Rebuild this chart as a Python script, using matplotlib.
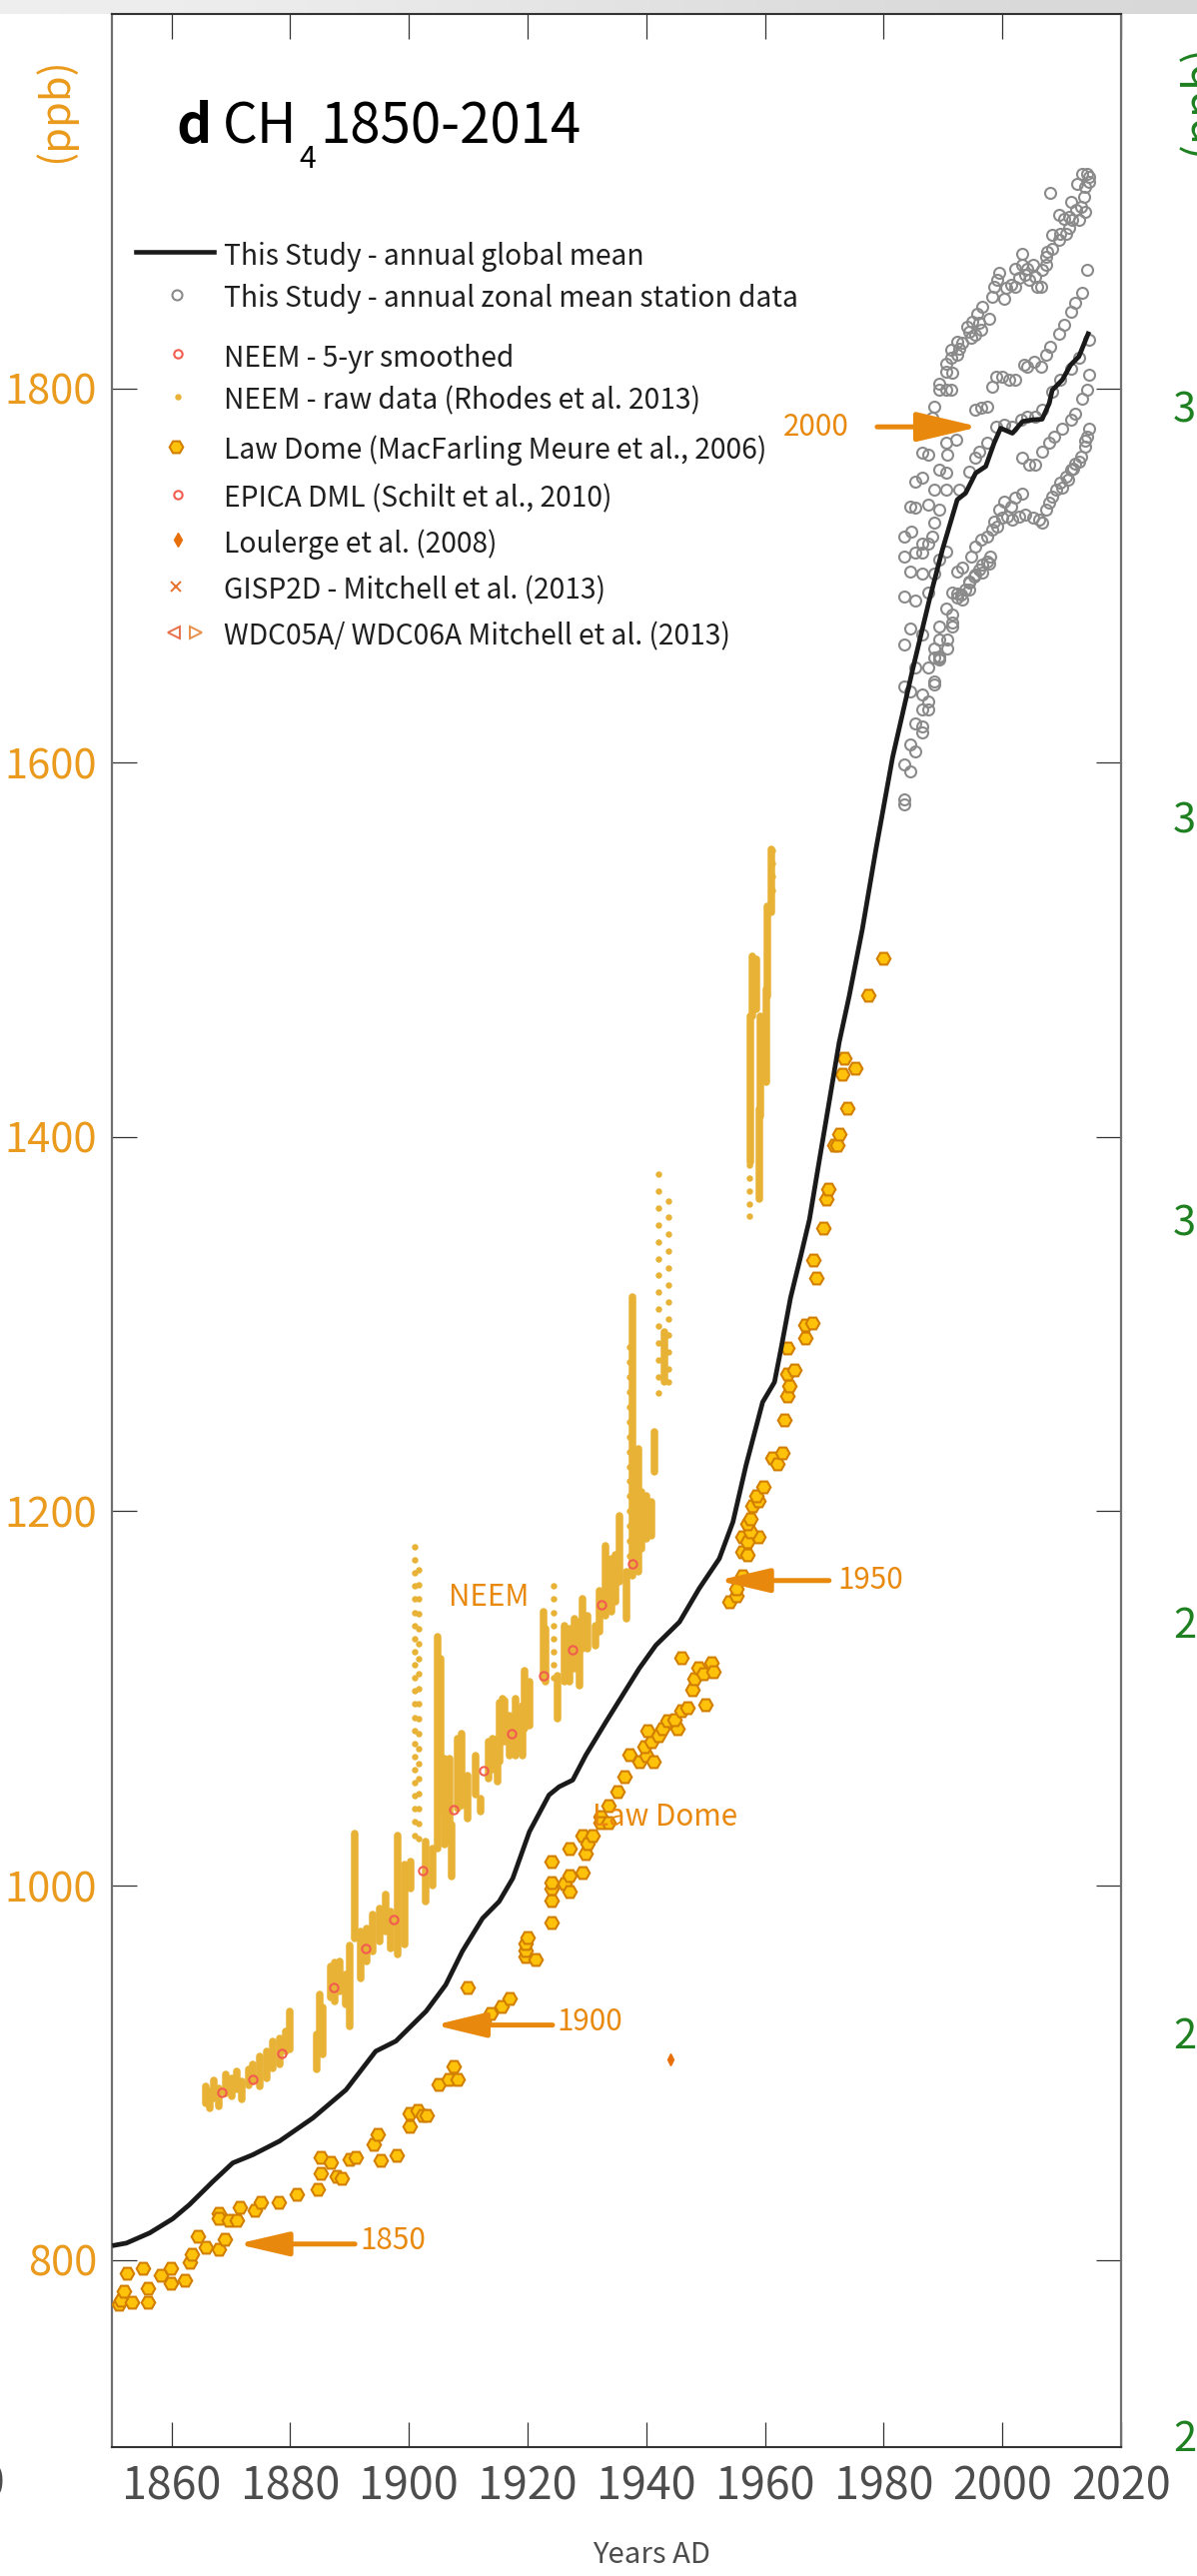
import matplotlib
matplotlib.use("Agg")
import matplotlib.pyplot as plt
from matplotlib import font_manager
from matplotlib.lines import Line2D
from matplotlib.colors import LinearSegmentedColormap
import numpy as np

W, H = 1198, 2578

# ---------------- data ----------------
x_ticks = [1860, 1880, 1900, 1920, 1940, 1960, 1980, 2000, 2020]
x_tick_labels = ['1860', '1880', '1900', '1920', '1940', '1960', '1980', '2000', '2020']
y_ticks = [800, 1000, 1200, 1400, 1600, 1800]
y_tick_labels = ['800', '1000', '1200', '1400', '1600', '1800']
neighbour_labels = ['320', '310', '300', '290', '280', '270']

global_year = [1850, 1852.4, 1856.3, 1860.2, 1863.0, 1867.0, 1870.3, 1873.7, 1878.2, 1883.8,
               1889.4, 1894.4, 1897.8, 1902.9, 1906.2, 1909.0, 1912.4, 1915.2, 1917.5, 1920.3,
               1923.6, 1925.3, 1927.6, 1929.8, 1933.2, 1938.8, 1941.6, 1945.6, 1948.9, 1952.3,
               1954.6, 1956.8, 1959.6, 1961.6, 1962.7, 1964.3, 1966.0, 1967.5, 1969.1, 1970.8,
               1972.5, 1974.2, 1976.4, 1978.7, 1981.5, 1984.9, 1987.7, 1989.9, 1992.4, 1993.8,
               1995.5, 1997.2, 1998.6, 1999.7, 2001.7, 2003.4, 2005.1, 2006.7, 2007.9, 2008.4,
               2010.1, 2011.5, 2012.9, 2014.6]
global_ppb = [807.6, 809.0, 814.4, 822.0, 829.5, 842.0, 851.8, 856.2, 863.5, 875.8,
              890.9, 911.5, 916.9, 932.9, 947.0, 964.9, 982.5, 991.5, 1003.9, 1028.8,
              1048.4, 1052.8, 1056.4, 1069.7, 1087.5, 1116.0, 1128.4, 1140.9, 1158.7, 1174.7,
              1194.3, 1224.5, 1258.3, 1269.0, 1286.8, 1314.0, 1336.0, 1356.0, 1386.4, 1418.4,
              1450.5, 1475.4, 1510.9, 1553.7, 1602.8, 1650.0, 1687.0, 1713.8, 1740.5, 1744.0,
              1754.7, 1758.3, 1770.7, 1778.7, 1776.0, 1782.3, 1783.2, 1783.5, 1792.0, 1799.0,
              1804.5, 1812.5, 1817.0, 1830.3]

lawdome_year = [1851.2, 1851.5, 1852.0, 1852.4, 1853.4, 1855.1, 1856.0, 1856.0, 1858.2, 1859.9,
                1859.9, 1862.2, 1863.1, 1863.5, 1864.4, 1865.8, 1867.9, 1868.9, 1867.9, 1867.9,
                1869.7, 1871.0, 1871.5, 1874.1, 1875.1, 1878.1, 1881.1, 1884.7, 1885.1, 1885.1,
                1886.9, 1887.8, 1888.7, 1890.0, 1891.0, 1894.0, 1894.7, 1895.3, 1897.9, 1900.1,
                1900.1, 1901.5, 1902.3, 1903.0, 1905.0, 1906.7, 1907.6, 1908.2, 1909.9, 1912.5,
                1913.8, 1915.6, 1916.9, 1919.6, 1921.4, 1919.6, 1919.6, 1920.0, 1924.0, 1924.0,
                1924.0, 1924.0, 1924.0, 1926.2, 1927.0, 1927.1, 1927.1, 1929.2, 1929.2, 1929.7,
                1930.1, 1931.0, 1932.3, 1932.3, 1933.7, 1933.7, 1935.2, 1936.3, 1937.2, 1938.8,
                1940.0, 1941.2, 1939.7, 1940.8, 1940.2, 1942.1, 1942.8, 1943.6, 1945.2, 1944.7,
                1946.0, 1946.9, 1949.9, 1947.8, 1948.1, 1948.7, 1949.6, 1950.9, 1951.3, 1946.0,
                1954.0, 1955.1, 1955.1, 1956.2, 1956.2, 1957.1, 1956.2, 1957.1, 1958.8, 1957.5,
                1957.1, 1957.5, 1957.9, 1958.8, 1958.5, 1959.8, 1961.2, 1962.0, 1962.9, 1963.3,
                1963.7, 1964.1, 1963.8, 1964.9, 1963.8, 1966.8, 1966.8, 1968.0, 1968.1, 1968.7,
                1969.8, 1970.3, 1970.7, 1971.7, 1972.1, 1972.5, 1973.8, 1973.0, 1973.4, 1975.2,
                1977.4, 1980.0]
lawdome_ppb = [776.1, 778.3, 783.3, 793.1, 777.6, 795.7, 784.7, 777.6, 791.6, 795.7,
               787.4, 789.0, 798.8, 802.8, 812.6, 806.9, 805.5, 811.2, 825.1, 822.0,
               821.0, 821.0, 828.1, 826.3, 830.6, 830.6, 834.9, 837.9, 854.8, 846.4,
               852.1, 844.5, 843.4, 853.5, 854.8, 861.5, 867.3, 853.0, 855.9, 871.4,
               878.3, 880.1, 877.0, 877.0, 893.6, 896.6, 903.4, 896.6, 945.5, 927.7,
               931.8, 935.7, 939.8, 962.4, 960.8, 965.6, 969.2, 972.2, 980.4, 991.8,
               998.6, 1001.8, 1012.8, 1001.2, 997.1, 1005.6, 1019.9, 1007.1, 1027.0, 1017.2,
               1022.2, 1027.0, 1036.8, 1033.8, 1033.8, 1043.0, 1050.0, 1058.0, 1070.1, 1066.2,
               1069.7, 1066.2, 1074.2, 1076.9, 1082.7, 1080.0, 1084.0, 1088.0, 1084.0, 1088.8,
               1093.7, 1095.0, 1096.8, 1104.8, 1110.6, 1116.4, 1113.3, 1119.2, 1114.5, 1121.7,
               1151.6, 1155.1, 1158.7, 1165.8, 1178.3, 1176.5, 1186.3, 1183.6, 1186.3, 1189.0,
               1193.4, 1196.0, 1203.1, 1205.8, 1208.5, 1213.0, 1228.4, 1225.4, 1231.3, 1249.0,
               1261.9, 1267.2, 1273.4, 1275.7, 1287.1, 1292.5, 1299.6, 1300.7, 1334.5, 1324.5,
               1351.2, 1366.6, 1372.2, 1395.9, 1395.9, 1401.5, 1415.6, 1433.6, 1442.1, 1436.6,
               1475.7, 1495.3]

neem5_year = [1868.4, 1873.7, 1878.6, 1887.3, 1892.7, 1897.5, 1902.3, 1907.6, 1912.5, 1917.3,
              1922.7, 1927.5, 1932.4, 1937.6]
neem5_ppb = [889.5, 896.6, 910.5, 945.5, 966.5, 982.0, 1008.3, 1040.7, 1061.7, 1081.3,
             1111.9, 1125.8, 1149.8, 1172.0]

# NEEM raw data: dense columns of samples (year, lowest, highest sample)
neem_col_year = [1865.7, 1866.5, 1867.1, 1868.0, 1869.2, 1870.1, 1871.0, 1871.9, 1873.0, 1873.7,
                 1874.8, 1876.0, 1877.1, 1878.2, 1879.3, 1880.0, 1884.4, 1884.9, 1885.4, 1886.8,
                 1887.5, 1888.3, 1889.4, 1890.1, 1890.9, 1891.9, 1892.8, 1893.9, 1895.0, 1896.1,
                 1897.0, 1898.1, 1899.2, 1900.3, 1902.9, 1904.0, 1904.8, 1905.4, 1906.0, 1906.8,
                 1907.2, 1908.2, 1908.9, 1909.9, 1911.3, 1912.0, 1913.5, 1914.1, 1914.9, 1915.3,
                 1915.8, 1916.1, 1916.9, 1918.0, 1918.4, 1919.1, 1919.5, 1920.3, 1922.6, 1923.1,
                 1925.1, 1926.2, 1927.1, 1927.9, 1928.7, 1929.3, 1930.1, 1931.5, 1932.1, 1933.2,
                 1934.1, 1934.8, 1935.5, 1936.6, 1937.7, 1938.6, 1939.1, 1940.0, 1940.8, 1941.4,
                 1943.0, 1957.6, 1957.9, 1958.5, 1959.0, 1959.3, 1960.2, 1960.4, 1961.0]
neem_col_low = [883.8, 881.0, 886.5, 882.0, 889.0, 887.4, 891.0, 885.6, 893.0, 895.4,
                892.7, 897.1, 902.5, 904.3, 911.4, 912.3, 901.6, 922.0, 910.0, 940.0,
                938.0, 943.4, 936.3, 924.7, 972.0, 950.5, 959.4, 964.8, 970.1, 975.4,
                966.5, 963.0, 968.3, 998.6, 991.4, 1000.3, 1020.0, 1040.0, 1021.7, 1023.5,
                1004.8, 1041.3, 1043.0, 1036.0, 1048.4, 1039.5, 1057.3, 1062.0, 1055.5, 1066.0,
                1076.8, 1076.8, 1069.7, 1069.7, 1073.3, 1069.7, 1084.0, 1085.7, 1110.6, 1108.8,
                1089.3, 1108.8, 1108.8, 1116.0, 1107.0, 1126.6, 1126.6, 1128.4, 1135.5, 1144.4,
                1146.2, 1151.6, 1162.2, 1142.6, 1165.8, 1167.6, 1180.0, 1185.4, 1187.1, 1220.9,
                1269.0, 1386.4, 1464.7, 1468.3, 1366.8, 1411.3, 1429.1, 1475.4, 1519.9]
neem_col_high = [892.7, 890.0, 896.0, 891.8, 899.0, 897.0, 900.7, 895.3, 902.0, 904.3,
                 908.7, 911.4, 916.7, 918.5, 922.0, 932.7, 920.3, 941.6, 935.0, 957.0,
                 959.0, 959.4, 952.3, 968.0, 1028.0, 975.4, 977.2, 984.3, 987.9, 995.0,
                 986.1, 1027.0, 1011.0, 1012.8, 1023.5, 1019.9, 1133.0, 1121.0, 1068.0, 1068.0,
                 1032.4, 1078.6, 1081.3, 1059.0, 1069.7, 1046.6, 1076.8, 1078.6, 1078.6, 1098.0,
                 1100.0, 1099.0, 1091.0, 1100.0, 1094.6, 1096.4, 1115.0, 1108.8, 1146.2, 1137.3,
                 1112.4, 1139.1, 1137.3, 1142.6, 1140.9, 1153.3, 1144.4, 1139.1, 1157.8, 1181.8,
                 1174.7, 1176.5, 1197.8, 1167.6, 1314.4, 1233.4, 1210.3, 1208.5, 1204.9, 1242.3,
                 1296.0, 1464.7, 1496.7, 1495.0, 1414.9, 1464.7, 1478.9, 1523.4, 1553.7]

# NEEM raw data: sparse, individually visible samples
neem_sparse_year = [1901.0, 1901.7, 1924.4, 1937.2, 1942.1, 1943.8, 1957.4, 1961.3]
neem_sparse_ppb = [
    [1181, 1174, 1167, 1160, 1153, 1146, 1139, 1132, 1125, 1118, 1111, 1104, 1097, 1090,
     1083, 1076, 1069, 1062, 1055, 1048, 1041, 1034, 1027],
    [1169, 1161, 1153, 1145, 1137, 1129, 1121, 1113, 1105, 1097, 1089, 1081, 1073, 1065,
     1057, 1049, 1041, 1033, 1025],
    [1160, 1153, 1146, 1139, 1132, 1125, 1118, 1111],
    [1288, 1280, 1272, 1264, 1256, 1248, 1240, 1232, 1224, 1216, 1208, 1200, 1192, 1184,
     1176, 1168],
    [1380, 1371, 1362, 1353, 1344, 1335, 1326, 1317, 1308, 1299, 1290, 1281, 1272, 1263],
    [1366, 1357, 1348, 1339, 1330, 1321, 1312, 1303, 1294, 1285, 1276, 1269],
    [1385, 1378, 1371, 1364, 1358],
    [1553, 1546, 1539, 1532],
]

loulergue_year = [1944.0]
loulergue_ppb = [907.0]

station_year = [
    1983.45, 1983.45, 1983.45, 1984.4, 1984.4, 1985.3, 1983.45, 1984.4, 1985.3, 1986.5,
    1986.5, 1986.5, 1986.5, 1987.5, 1987.5, 1988.5, 1988.5, 1985.3, 1987.5, 1989.3,
    1989.3, 1988.5, 1990.7, 1990.7, 1989.3, 1991.5, 1991.5, 1984.4, 1983.45, 1986.5,
    1990.5, 1991.5, 1991.5, 1992.4, 1993.3, 1987.5, 1983.45, 1985.3, 1984.4, 1986.5,
    1988.5, 1992.4, 1993.3, 1994.4, 1994.4, 1995.5, 1996.6, 1997.8,
    1984.6, 1983.45, 1983.45, 1985.3, 1986.5, 1984.4, 1985.3, 1987.5, 1989.3, 1988.5,
    1987.5, 1985.3, 1986.5, 1988.5, 1986.5, 1987.5, 1989.3, 1990.5, 1990.7, 1990.5,
    1992.2, 1988.2, 1988.5, 1989.3, 1989.3, 1990.5, 1991.3, 1990.5, 1991.6, 1990.5,
    1991.3, 1992.4, 1992.4, 1992.7, 1993.3, 1991.3, 1994.4, 1994.7, 1995.5, 1996.4,
    1994.1, 1994.9, 1995.8, 1996.6, 1997.8, 1996.1, 1998.3, 1998.6, 1999.2, 1999.4,
    2000.3, 2000.6, 2001.4, 2002.2, 2002.2, 2003.4, 2003.4, 2004.2, 2002.8, 2003.9,
    2004.5, 2005.1, 2005.6, 2005.9, 2006.7, 2007.3, 2006.5, 2007.3, 2007.6, 2008.4,
    2008.4, 2009.5, 2009.8, 2010.7, 2011.2, 2009.5, 2010.4, 2011.2, 2011.8, 2012.9,
    2011.5, 2012.4, 2013.2, 2013.8, 2014.0, 2012.6, 2013.5, 2014.0, 2014.3, 2014.6,
    2014.6, 2008.1,
    1995.5, 1996.4, 1997.5, 1998.3, 1998.9, 2000.0, 2001.1, 2002.2, 2003.7, 2004.2,
    2005.3, 2006.5, 2007.3, 2008.1, 2009.5, 2010.4, 2011.5, 2012.3, 2013.5, 2014.3,
    2014.6, 2014.6,
    1990.5, 1992.7, 1994.4, 1995.5, 1996.1, 1997.5, 1998.9, 2000.3, 2001.7, 2003.1,
    2004.2, 2005.6, 2006.7, 2008.4, 2009.8, 2011.5, 2012.9,
    2003.4, 2004.5, 2005.6, 2006.7, 2007.9, 2008.7, 2010.1, 2011.5, 2012.3, 2013.5,
    2014.3, 1986.5, 1988.2, 1989.3, 1990.5,
    1989.3, 1988.5, 1989.3, 1992.4, 1993.0, 1993.8, 1994.4, 1995.2, 1996.1, 1996.6,
    1997.5, 1998.0, 1994.7, 1995.5, 1996.4, 1997.5, 1998.3, 1999.2, 1998.6, 2000.0,
    2000.8, 2001.7, 2002.8, 2003.9, 2005.1, 2006.2, 2006.7, 1999.4, 2000.3, 2001.4,
    2002.2, 2003.4, 2007.3, 2007.9, 2008.4, 2009.0, 2009.8, 2010.7, 2011.5, 2012.3,
    2013.2, 2014.0, 2014.3, 2014.6, 2010.1, 2011.0, 2012.0, 2013.0, 2014.0]
station_ppb = [
    1580.3, 1577.6, 1599.0, 1595.4, 1609.6, 1606.1, 1640.8, 1638.1, 1621.2, 1619.4,
    1615.9, 1636.3, 1628.3, 1628.3, 1632.8, 1641.7, 1643.5, 1650.6, 1650.6, 1655.0,
    1656.5, 1661.2, 1661.2, 1665.7, 1672.8, 1672.8, 1674.6, 1671.4, 1663.0, 1668.4,
    1682.6, 1679.0, 1691.0, 1688.0, 1687.0, 1691.0, 1688.5, 1686.7, 1702.2, 1701.0,
    1701.0, 1702.2, 1704.0, 1692.4, 1696.8, 1700.4, 1701.3, 1706.6,
    1723.6, 1720.9, 1710.2, 1712.0, 1712.0, 1736.9, 1736.0, 1737.8, 1735.1, 1728.0,
    1717.3, 1750.3, 1752.1, 1745.8, 1765.4, 1764.5, 1756.5, 1754.7, 1764.5, 1770.7,
    1772.5, 1784.1, 1790.3, 1802.7, 1799.2, 1799.2, 1799.2, 1809.0, 1808.1, 1813.4,
    1816.1, 1817.9, 1825.0, 1821.4, 1824.1, 1820.5, 1830.3, 1826.8, 1828.5, 1831.2,
    1833.0, 1835.7, 1840.1, 1843.7, 1837.4, 1834.8, 1849.0, 1854.3, 1857.9, 1861.5,
    1848.1, 1853.5, 1855.2, 1854.3, 1864.1, 1865.9, 1872.1, 1864.1, 1858.8, 1860.6,
    1857.9, 1865.9, 1859.7, 1854.3, 1863.2, 1865.9, 1854.3, 1870.4, 1873.0, 1874.8,
    1881.9, 1879.3, 1882.8, 1882.8, 1885.5, 1892.6, 1890.8, 1891.7, 1889.9, 1889.9,
    1899.7, 1895.3, 1897.0, 1902.4, 1894.4, 1909.5, 1914.8, 1907.7, 1914.8, 1913.0,
    1910.4, 1904.2,
    1788.5, 1789.4, 1790.3, 1801.0, 1806.3, 1806.3, 1804.5, 1804.5, 1812.5, 1811.6,
    1814.3, 1811.6, 1817.9, 1822.3, 1829.4, 1833.9, 1841.0, 1845.5, 1850.8, 1863.2,
    1825.9, 1807.2,
    1745.8, 1745.8, 1755.6, 1762.7, 1766.3, 1770.7, 1779.6, 1780.5, 1779.6, 1783.2,
    1785.0, 1785.0, 1788.5, 1798.3, 1804.5, 1810.7, 1816.1,
    1762.7, 1759.1, 1759.1, 1766.3, 1770.7, 1774.3, 1778.7, 1783.2, 1786.7, 1794.7,
    1799.2, 1717.3, 1720.9, 1708.4, 1712.9,
    1665.7, 1656.0, 1656.0, 1690.6, 1689.7, 1692.4, 1696.0, 1699.5, 1703.1, 1705.8,
    1707.5, 1710.2, 1710.2, 1715.5, 1719.1, 1720.9, 1724.4, 1726.2, 1728.9, 1730.7,
    1731.6, 1729.8, 1731.6, 1732.5, 1730.7, 1729.8, 1728.0, 1735.1, 1739.6, 1736.9,
    1741.4, 1744.0, 1735.1, 1738.7, 1742.2, 1745.8, 1749.4, 1752.9, 1756.5, 1760.0,
    1763.6, 1768.9, 1774.3, 1778.7, 1747.0, 1751.0, 1757.0, 1761.0, 1772.0]

legend_labels = ['This Study - annual global mean',
                 'This Study - annual zonal mean station data',
                 'NEEM - 5-yr smoothed',
                 'NEEM - raw data (Rhodes et al. 2013)',
                 'Law Dome (MacFarling Meure et al., 2006)',
                 'EPICA DML (Schilt et al., 2010)',
                 'Loulerge et al. (2008)',
                 'GISP2D - Mitchell et al. (2013)',
                 'WDC05A/ WDC06A Mitchell et al. (2013)']

# ---------------- style ----------------
names = {f.name for f in font_manager.fontManager.ttflist}
fam = None
for cand in ['Liberation Sans Narrow', 'Noto Sans CJK JP', 'Noto Sans CJK SC', 'Roboto']:
    if cand in names:
        fam = cand
        break
plt.rcParams['font.family'] = [fam, 'DejaVu Sans'] if fam else ['DejaVu Sans']

ORANGE_TXT = '#EA9A1C'
ARROW_C = '#E8890E'
GREEN = '#1E8020'
GRAY_TXT = '#4D4D4D'
NEEM_C = '#E8B236'
LD_FACE = '#FFC20A'
LD_EDGE = '#D27E00'
RED_C = '#F25C4F'
STATION_C = '#8A8A8A'

fig = plt.figure(figsize=(W / 100, H / 100), dpi=100)
renderer = fig.canvas.get_renderer()


def fx(x):
    return x / W


def fy(y):
    return 1 - y / H


def text_width(s, size, **kw):
    t = fig.text(0, 0, s, fontsize=size, **kw)
    w = t.get_window_extent(renderer=renderer).width
    t.remove()
    return w


def size_for(s, target_px, cap=None, **kw):
    sz = 10.0 * target_px / text_width(s, 10.0, **kw)
    if cap is not None:
        sz = min(sz, cap)
    return sz


FS_YTICK = size_for('1800', 93, cap=37)
FS_XTICK = size_for('1860', 100, cap=37)
FS_LEG = size_for(legend_labels[1], 575, cap=28)
FS_TITLE = size_for('1850-2014', 262, cap=44)
FS_ANN = size_for('1850', 66, cap=28)
FS_XLAB = size_for('Years AD', 118, cap=26)

# top grey band (part of the surrounding page)
band = fig.add_axes([0, fy(14), 1, 14 / H])
band.imshow(np.array([[0.0, 1.0]]), aspect='auto',
            cmap=LinearSegmentedColormap.from_list('band', ['#efefef', '#d8d8d8']),
            interpolation='bicubic')
band.axis('off')

ax = fig.add_axes([fx(112.3), fy(2449), (1122 - 112.3) / W, (2449 - 14) / H])
ax.set_xlim(1850, 2020)
ax.set_ylim(700, 2000)

# NEEM raw
ax.vlines(neem_col_year, neem_col_low, neem_col_high, colors=NEEM_C, linewidth=5.4,
          capstyle='round', zorder=2)
for yr, vals in zip(neem_sparse_year, neem_sparse_ppb):
    ax.plot([yr] * len(vals), vals, 'o', color=NEEM_C, ms=4.6, mec='none', zorder=2)

# NEEM 5-yr smoothed
ax.plot(neem5_year, neem5_ppb, 'o', ms=6.0, mfc='none', mec=RED_C, mew=1.5, zorder=4)

# Law Dome
ax.plot(lawdome_year, lawdome_ppb, 'H', ms=9.8, mfc=LD_FACE, mec=LD_EDGE, mew=1.5, zorder=3)

# Loulergue
ax.plot(loulergue_year, loulergue_ppb, 'd', ms=5.8, color='#E8700A', zorder=3)

# station data
ax.plot(station_year, station_ppb, 'o', ms=7.9, mfc='none', mec=STATION_C, mew=1.5, zorder=3)

# global mean
ax.plot(global_year, global_ppb, '-', color='#1a1a1a', lw=3.4, zorder=5,
        solid_joinstyle='round', solid_capstyle='butt')

# axes styling
ax.set_xticks(x_ticks)
ax.set_xticklabels(x_tick_labels)
ax.set_yticks(y_ticks)
ax.set_yticklabels(y_tick_labels)
ax.tick_params(direction='in', length=18, width=0.9, color='#333333', top=True, right=True)
ax.tick_params(axis='x', labelcolor=GRAY_TXT, pad=12, labelsize=FS_XTICK)
ax.tick_params(axis='y', labelcolor=ORANGE_TXT, pad=11, labelsize=FS_YTICK)
for side in ['left', 'right']:
    ax.spines[side].set_color('#707070')
    ax.spines[side].set_linewidth(1.6)
for side in ['top', 'bottom']:
    ax.spines[side].set_color('#333333')
    ax.spines[side].set_linewidth(1.5)

# arrows and labels
arrow_kw = dict(color=ARROW_C, lw=3.6, shrinkA=0, shrinkB=0, mutation_scale=10)
ax.annotate('', xy=(1996.1, 1779.4), xytext=(1978.9, 1779.4),
            arrowprops=dict(arrowstyle='-|>,head_length=3.8,head_width=0.9', **arrow_kw))
ax.annotate('', xy=(1952.0, 1163.0), xytext=(1970.8, 1163.0),
            arrowprops=dict(arrowstyle='-|>,head_length=3.1,head_width=0.72', **arrow_kw))
ax.annotate('', xy=(1904.3, 925.5), xytext=(1924.2, 925.5),
            arrowprops=dict(arrowstyle='-|>,head_length=3.1,head_width=0.75', **arrow_kw))
ax.annotate('', xy=(1871.0, 808.5), xytext=(1890.9, 808.5),
            arrowprops=dict(arrowstyle='-|>,head_length=3.1,head_width=0.72', **arrow_kw))
ax.text(1974.2, 1779.4, '2000', color=ARROW_C, fontsize=FS_ANN, ha='right', va='center')
ax.text(1972.2, 1163.0, '1950', color=ARROW_C, fontsize=FS_ANN, ha='left', va='center')
ax.text(1925.0, 927.0, '1900', color=ARROW_C, fontsize=FS_ANN, ha='left', va='center')
ax.text(1891.7, 810.0, '1850', color=ARROW_C, fontsize=FS_ANN, ha='left', va='center')
ax.text(1906.7, 1154.0, 'NEEM', color=ARROW_C, fontsize=FS_ANN, ha='left', va='center')
ax.text(1930.9, 1036.5, 'Law Dome', color=ARROW_C, fontsize=FS_ANN, ha='left', va='center')

# title, placed piece by piece
x_cur = 176.0
t = fig.text(fx(x_cur), fy(143), 'd', fontsize=FS_TITLE, fontweight='bold',
             va='baseline', ha='left')
x_cur += t.get_window_extent(renderer=renderer).width + 12
t = fig.text(fx(x_cur), fy(143), 'CH', fontsize=FS_TITLE, va='baseline', ha='left')
x_cur += t.get_window_extent(renderer=renderer).width + 1
t = fig.text(fx(x_cur), fy(168), '4', fontsize=FS_TITLE * 0.55, va='baseline', ha='left')
x_cur += t.get_window_extent(renderer=renderer).width + 5
fig.text(fx(x_cur), fy(143), '1850-2014', fontsize=FS_TITLE, va='baseline', ha='left')

# legend (drawn by hand to match the layout)
leg_base = [265, 307, 366.5, 409, 459, 507, 552.5, 599, 645]
for lab, b in zip(legend_labels, leg_base):
    fig.text(fx(224), fy(b), lab, fontsize=FS_LEG, color='#1f1f1f', va='baseline', ha='left')
mk_y = [b - 12.5 for b in leg_base]
fig.add_artist(Line2D([fx(136), fx(214)], [fy(252)] * 2, transform=fig.transFigure,
                      color='#1a1a1a', lw=3.3))
fig.add_artist(Line2D([fx(177)], [fy(mk_y[1])], transform=fig.transFigure, marker='o',
                      ms=7.2, mfc='none', mec=STATION_C, mew=1.5))
fig.add_artist(Line2D([fx(178)], [fy(mk_y[2])], transform=fig.transFigure, marker='o',
                      ms=6.0, mfc='none', mec=RED_C, mew=1.5))
fig.add_artist(Line2D([fx(178)], [fy(mk_y[3])], transform=fig.transFigure, marker='o',
                      ms=4.6, mfc=NEEM_C, mec='none'))
fig.add_artist(Line2D([fx(176)], [fy(mk_y[4])], transform=fig.transFigure, marker='H',
                      ms=9.8, mfc=LD_FACE, mec=LD_EDGE, mew=1.5))
fig.add_artist(Line2D([fx(178)], [fy(mk_y[5])], transform=fig.transFigure, marker='o',
                      ms=6.0, mfc='none', mec=RED_C, mew=1.5))
fig.add_artist(Line2D([fx(178)], [fy(mk_y[6])], transform=fig.transFigure, marker='d',
                      ms=7.0, color='#E8700A'))
fig.add_artist(Line2D([fx(176)], [fy(mk_y[7])], transform=fig.transFigure, marker='x',
                      ms=7.0, color='#E8702A', mew=1.4))
fig.add_artist(Line2D([fx(174)], [fy(mk_y[8])], transform=fig.transFigure, marker='<',
                      ms=8.0, mfc='none', mec='#E8704A', mew=1.4))
fig.add_artist(Line2D([fx(196)], [fy(mk_y[8])], transform=fig.transFigure, marker='>',
                      ms=8.0, mfc='none', mec='#E8904A', mew=1.4))

# axis labels
fig.text(fx(55), fy(110), '(ppb)', rotation=90, color=ORANGE_TXT, fontsize=FS_YTICK,
         ha='center', va='center')
fig.text(fx(652), fy(2565), 'Years AD', color=GRAY_TXT, fontsize=FS_XLAB, ha='center',
         va='baseline')

# neighbouring panels (cut by the image edge)
fig.text(fx(1201), fy(100), '(ppb)', rotation=90, color=GREEN, fontsize=FS_YTICK * 1.05,
         ha='center', va='center')
for lab, yy in zip(neighbour_labels, [411, 822, 1225, 1628, 2039, 2442]):
    fig.text(fx(1174), fy(yy), lab, color=GREEN, fontsize=FS_YTICK, ha='left', va='center')
fig.text(fx(5), fy(2487), '2020', color=GRAY_TXT, fontsize=FS_XTICK, ha='right', va='center')

fig.savefig('out.png', dpi=100)
